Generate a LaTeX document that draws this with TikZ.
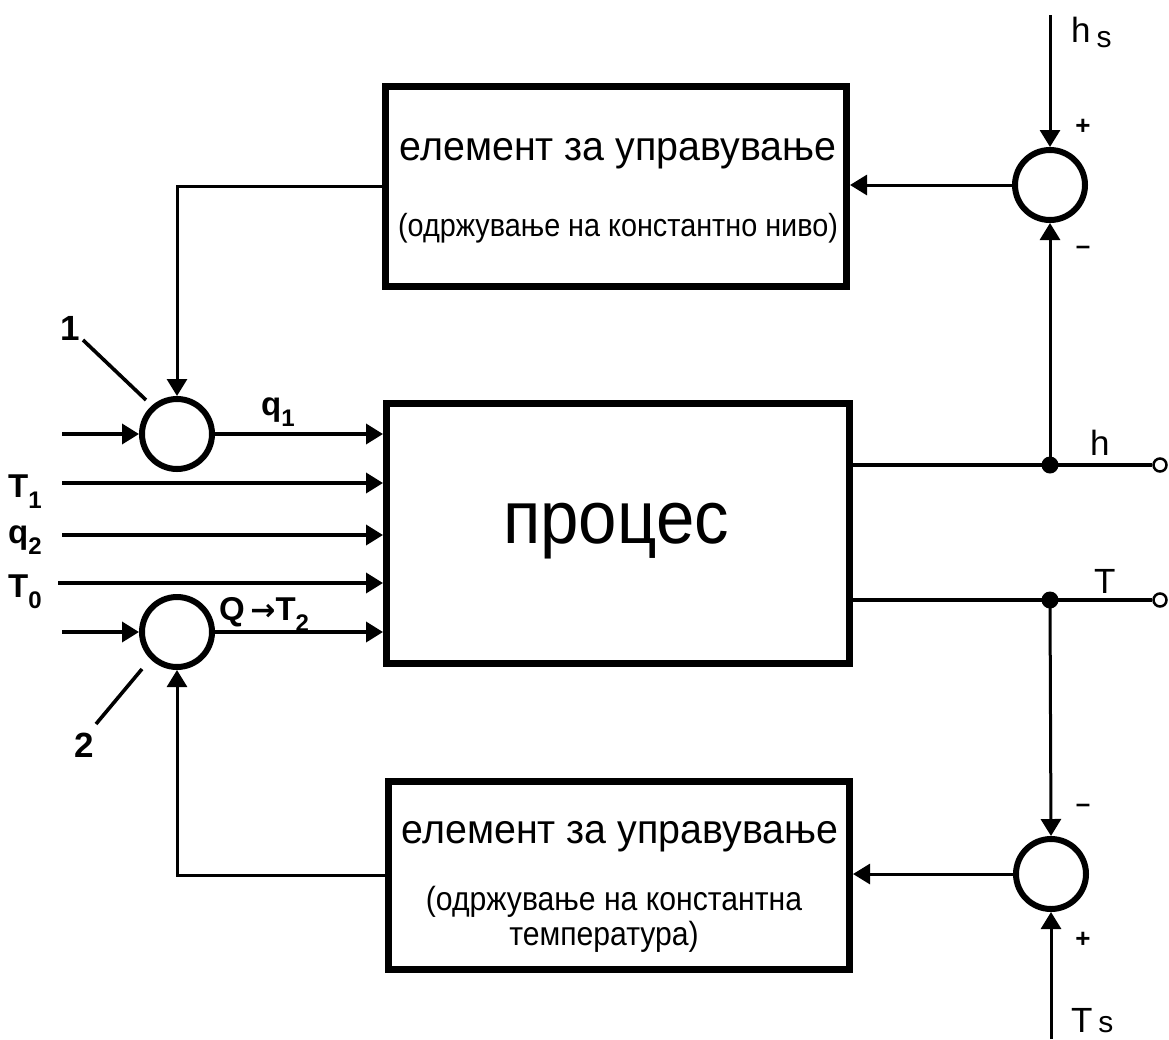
\documentclass[tikz,border=0pt]{standalone}
\usepackage{fontspec}
\setmainfont{Liberation Sans}
\newfontfamily\djv{DejaVu Sans}
\usetikzlibrary{arrows.meta}
\newcommand{\lsub}[1]{\raisebox{-0.36em}{\fontsize{24}{24}\selectfont #1}}
\begin{document}
\begin{tikzpicture}[x=1pt,y=-1pt,
  conn/.style={line width=3.6pt},
  thin/.style={line width=3pt},
  arr/.style={conn,-{Triangle[length=17pt,width=20pt]}},
  tarr/.style={thin,-{Triangle[length=17pt,width=20pt]}},
  blk/.style={draw,line width=7pt,inner sep=0pt},
  sumc/.style={draw,circle,line width=6pt,minimum size=70pt,inner sep=0pt},
  term/.style={draw,circle,line width=2.5pt,fill=white,minimum size=13pt,inner sep=0pt},
  dot/.style={fill,circle,minimum size=17pt,inner sep=0pt},
  txt/.style={inner sep=0pt,anchor=base},
  lbl/.style={font=\bfseries\fontsize{33}{34}\selectfont,inner sep=0pt,anchor=base west},
  sgn/.style={font=\bfseries\fontsize{26}{26}\selectfont,inner sep=0pt}]
\useasboundingbox[fill=white] (0,0) rectangle (1169,1039);

% blocks
\node[blk,minimum width=461pt,minimum height=200pt] (top) at (616,186) {};
\node[blk,minimum width=463pt,minimum height=260pt] (proc) at (618,533) {};
\node[blk,minimum width=461pt,minimum height=188pt] (bot) at (619,875) {};

\node[txt,font=\fontsize{41}{41}\selectfont] (toptxt) at (618,160) {\scalebox{0.96}[1]{елемент за управување}};
\node[txt,font=\fontsize{32}{32}\selectfont] (topsub) at (618,236) {\scalebox{0.9}[1]{(одржување на константно ниво)}};
\node[txt,font=\fontsize{75}{75}\selectfont] (proctxt) at (616,543) {\scalebox{0.92}[1]{процес}};
\node[txt,font=\fontsize{41}{41}\selectfont] (bottxt) at (620,843) {\scalebox{0.96}[1]{елемент за управување}};
\node[txt,font=\fontsize{33.5}{33.5}\selectfont] (botsub1) at (614,910) {\scalebox{0.9}[1]{(одржување на константна}};
\node[txt,font=\fontsize{33.5}{33.5}\selectfont] (botsub2) at (604,945) {\scalebox{0.9}[1]{температура)}};

% summing points
\node[sumc] (s1) at (177,434) {};
\node[sumc] (s2) at (177,632) {};
\node[sumc] (sh) at (1050,185) {};
\node[sumc] (sT) at (1051,874) {};

% inputs
\coordinate (in1) at (62,434);
\coordinate (inT1) at (62,483);
\coordinate (inq2) at (62,535);
\coordinate (inT0) at (58,583);
\coordinate (in2) at (62,632);
\draw[arr] (in1) -- (s1.west);
\draw[arr] (s1.east) -- (s1.east -| proc.west);
\draw[arr] (inT1) -- (inT1 -| proc.west);
\draw[arr] (inq2) -- (inq2 -| proc.west);
\draw[arr] (inT0) -- (inT0 -| proc.west);
\draw[arr] (in2) -- (s2.west);
\draw[arr] (s2.east) -- (s2.east -| proc.west);

\node[lbl] (lT1) at (8,497) {T\lsub{1}};
\node[lbl] (lq2) at (8,543) {q\lsub{2}};
\node[lbl] (lT0) at (8,597) {T\lsub{0}};
\node[lbl] (lq1) at (261,415) {q\lsub{1}};
\node[lbl] (lQ) at (219,620) {Q\,{\djv\bfseries\fontsize{30}{30}\selectfont →}T\lsub{2}};

% feedback
\draw[tarr] (top.west) -| (s1.north);
\draw[tarr] (bot.west) -| (s2.south);

% setpoints and outputs
\coordinate (hs) at (1050,15);
\coordinate (Ts) at (1051,1039);
\draw[tarr] (hs) -- (sh.north);
\draw[tarr] (sh.west) -- (sh.west -| top.east);
\draw[tarr] (Ts) -- (sT.south);
\draw[tarr] (sT.west) -- (sT.west -| bot.east);

\coordinate (jh) at (1050,465);
\coordinate (jT) at (1050,600);
\node[term] (oh) at (1160,465) {};
\node[term] (oT) at (1160,600) {};
\draw[conn] (proc.east |- jh) -- (oh.west);
\draw[conn] (proc.east |- jT) -- (oT.west);
\draw[tarr] (jh) -- (sh.south);
\draw[tarr] (jT) -- (sT.north);
\node[dot] (dh) at (jh) {};
\node[dot] (dT) at (jT) {};

\node[lbl,font=\fontsize{35}{35}\selectfont] (lhs) at (1071,42) {h\,\raisebox{-5pt}{\fontsize{30}{30}\selectfont s}};
\node[lbl,font=\fontsize{35}{35}\selectfont] (lh) at (1090,455) {h};
\node[lbl,font=\fontsize{35}{35}\selectfont] (lT) at (1094,593) {T};
\node[lbl,font=\fontsize{35}{35}\selectfont] (lTs) at (1071,1032) {T\,{\fontsize{30}{30}\selectfont s}};
\node[sgn] (p1) at (1083,127) {+};
\node[sgn] (m1) at (1083,250) {–};
\node[sgn] (m2) at (1083,808) {–};
\node[sgn] (p2) at (1083,940) {+};

% numbered pointers
\node[lbl,anchor=center,font=\bfseries\fontsize{35}{35}\selectfont] (n1) at (70,328) {1};
\node[lbl,anchor=center,font=\bfseries\fontsize{35}{35}\selectfont] (n2) at (84,745) {2};
\draw[conn] (83,340) -- (146,400);
\draw[conn] (96,724) -- (142,669);
\end{tikzpicture}
\end{document}
